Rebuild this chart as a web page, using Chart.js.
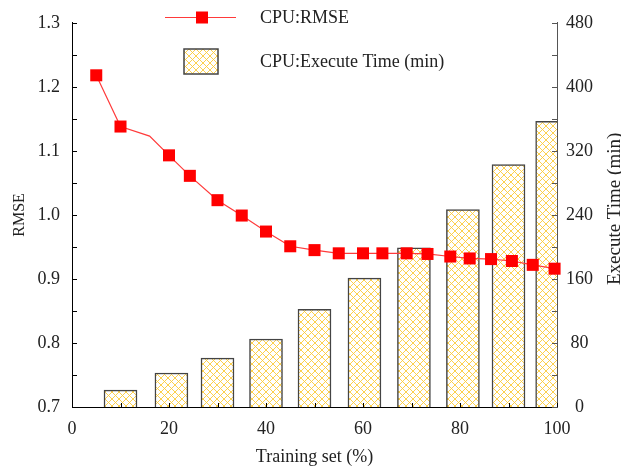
<!DOCTYPE html>
<html>
<head>
<meta charset="utf-8">
<script src="https://cdn.jsdelivr.net/npm/chart.js@4.4.0/dist/chart.umd.min.js"></script>
<style>
html, body { margin: 0; padding: 0; background: #fff; }
</style>
</head>
<body>
<canvas id="grafico" width="621" height="468"></canvas>
<script>
// RMSE line: training set (%) and RMSE value
const rmseX = [5, 10, 16, 20, 24.3, 30, 35, 40, 45, 50, 55, 60, 64, 69, 73.3, 78, 82, 86.4, 90.7, 95, 99.5];
const rmseY = [1.218, 1.138, 1.123, 1.093, 1.061, 1.023, 0.999, 0.974, 0.951, 0.945, 0.940, 0.940, 0.940, 0.940, 0.939, 0.935, 0.932, 0.931, 0.928, 0.922, 0.916];
// point at 16% has no marker in the original
const rmseMarker = [1, 1, 0, 1, 1, 1, 1, 1, 1, 1, 1, 1, 1, 1, 1, 1, 1, 1, 1, 1, 1];

// execute time bars (min)
const barX = [10, 20.5, 30, 40, 50, 60.3, 70.5, 80.6, 90, 99];
const barTime = [21, 42.5, 61, 85, 122, 161, 199, 246.5, 303, 357];

// tick labels
const xTicks = [0, 20, 40, 60, 80, 100];
const rmseTicks = [0.7, 0.8, 0.9, 1.0, 1.1, 1.2, 1.3];
const timeTicks = [0, 80, 160, 240, 320, 400, 480];

const serif = "'Liberation Serif', 'Times New Roman', serif";
const textColor = '#222';

function hatch() {
    const c = document.createElement('canvas');
    c.width = 7; c.height = 7;
    const g = c.getContext('2d');
    g.fillStyle = '#fff';
    g.fillRect(0, 0, 7, 7);
    g.strokeStyle = '#FCCB3A';
    g.lineWidth = 0.9;
    g.beginPath();
    g.moveTo(-1, -1); g.lineTo(8, 8);
    g.moveTo(8, -1); g.lineTo(-1, 8);
    g.stroke();
    return g.createPattern(c, 'repeat');
}
const pattern = hatch();

// minor ticks halfway between labelled ticks
function withMinor(ticks) {
    const out = [];
    ticks.forEach((t, i) => {
        out.push(t);
        if (i < ticks.length - 1) out.push((t + ticks[i + 1]) / 2);
    });
    return out;
}

const extras = {
    id: 'extras',
    afterDatasetsDraw(chart) {
        const { ctx, chartArea: a, scales } = chart;
        ctx.save();
        ctx.lineWidth = 1;
        ctx.strokeStyle = '#000';
        ctx.beginPath();
        withMinor(rmseTicks).forEach(v => {
            const y = Math.round(scales.y.getPixelForValue(v)) + 0.5;
            ctx.moveTo(a.left, y); ctx.lineTo(a.left + 5, y);
        });
        withMinor(xTicks).forEach(v => {
            const x = Math.round(scales.x.getPixelForValue(v)) + 0.5;
            ctx.moveTo(x, a.bottom); ctx.lineTo(x, a.bottom - 4);
        });
        ctx.stroke();
        ctx.strokeStyle = '#555';
        ctx.beginPath();
        withMinor(timeTicks).forEach(v => {
            const y = Math.round(scales.y2.getPixelForValue(v)) + 0.5;
            ctx.moveTo(a.right, y); ctx.lineTo(a.right - 5, y);
        });
        ctx.stroke();
        ctx.restore();
    },
    afterDraw(chart) {
        const { ctx, chartArea: a } = chart;
        const line = chart.data.datasets[0];
        const bar = chart.data.datasets[1];
        ctx.save();
        // legend
        ctx.strokeStyle = line.borderColor;
        ctx.lineWidth = 1.2;
        ctx.beginPath();
        ctx.moveTo(165, 17.5); ctx.lineTo(236, 17.5);
        ctx.stroke();
        ctx.fillStyle = line.pointBackgroundColor;
        ctx.fillRect(196, 11.5, 12, 12);
        ctx.fillStyle = pattern;
        ctx.fillRect(184, 49, 34, 25);
        ctx.strokeStyle = bar.borderColor;
        ctx.lineWidth = 1.5;
        ctx.strokeRect(184, 49, 34, 25);
        ctx.fillStyle = textColor;
        ctx.font = '18px ' + serif;
        ctx.textBaseline = 'middle';
        ctx.textAlign = 'left';
        ctx.fillText(line.label, 260, 18);
        ctx.fillText(bar.label, 260, 62);
        // right axis title, reading bottom to top
        ctx.translate(615, (a.top + a.bottom) / 2 - 6);
        ctx.rotate(-Math.PI / 2);
        ctx.textAlign = 'center';
        ctx.font = '19px ' + serif;
        ctx.fillText('Execute Time (min)', 0, 0);
        ctx.restore();
    }
};

const grafico = document.querySelector('#grafico');

new Chart(grafico, {
    type: 'bar',
    data: {
        datasets: [
            {
                type: 'line',
                label: 'CPU:RMSE',
                yAxisID: 'y',
                data: rmseX.map((x, i) => ({ x: x, y: rmseY[i] })),
                borderColor: '#FF3A3A',
                borderWidth: 1.2,
                tension: 0,
                pointStyle: 'rect',
                pointRadius: rmseMarker.map(m => m ? 8.5 : 0),
                pointBackgroundColor: '#FF0000',
                pointBorderColor: '#FF0000',
                pointBorderWidth: 0,
                clip: false
            },
            {
                type: 'bar',
                label: 'CPU:Execute Time (min)',
                yAxisID: 'y2',
                data: barX.map((x, i) => ({ x: x, y: barTime[i] })),
                backgroundColor: pattern,
                borderColor: '#444',
                borderWidth: 1.5,
                barThickness: 33,
                clip: 0
            }
        ]
    },
    options: {
        responsive: false,
        animation: false,
        layout: { padding: { top: 15, left: 0, right: 0, bottom: 0 } },
        plugins: { legend: { display: false }, tooltip: { enabled: false } },
        scales: {
            x: {
                type: 'linear',
                position: 'bottom',
                min: 0, max: 100,
                offset: false,
                afterBuildTicks: s => { s.ticks = xTicks.map(v => ({ value: v })); },
                afterFit: s => { s.height = 61; },
                grid: { display: false, drawTicks: false },
                border: { display: true, color: '#000', width: 1 },
                ticks: { color: textColor, font: { family: serif, size: 18 }, padding: 11, maxRotation: 0 },
                title: { display: true, text: 'Training set (%)', color: textColor, font: { family: serif, size: 18 }, padding: { top: 0, bottom: 0 } }
            },
            y: {
                position: 'left',
                min: 0.7, max: 1.3,
                afterBuildTicks: s => { s.ticks = rmseTicks.map(v => ({ value: v })); },
                afterFit: s => { s.width = 72; },
                grid: { display: false, drawTicks: false },
                border: { display: true, color: '#000', width: 1 },
                ticks: { color: textColor, font: { family: serif, size: 18 }, padding: 12, callback: v => v.toFixed(1) },
                title: { display: true, text: 'RMSE', color: textColor, font: { family: serif, size: 16 }, padding: { top: 10, bottom: 0 } }
            },
            y2: {
                position: 'right',
                min: 0, max: 480,
                afterBuildTicks: s => { s.ticks = timeTicks.map(v => ({ value: v })); },
                afterFit: s => { s.width = 64; },
                grid: { display: false, drawTicks: false },
                border: { display: true, color: '#555', width: 1 },
                ticks: { color: textColor, font: { family: serif, size: 18 }, padding: 9, crossAlign: 'center' }
            }
        }
    },
    plugins: [extras]
});
</script>
</body>
</html>
